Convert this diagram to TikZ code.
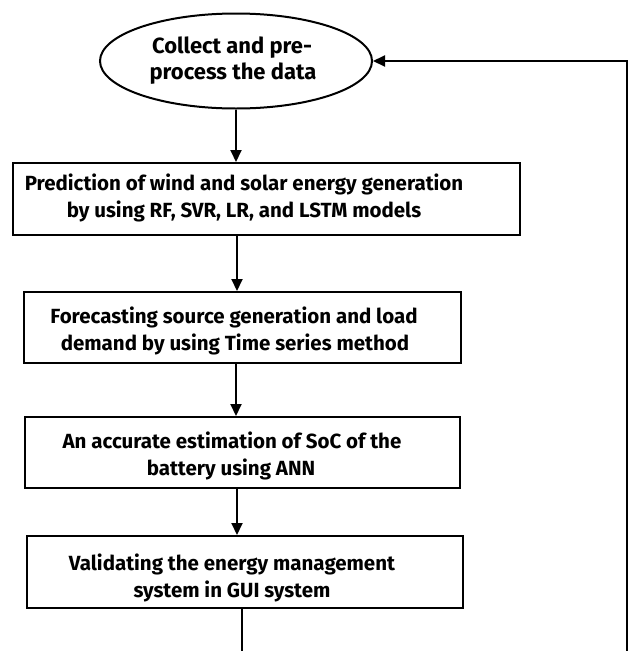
\documentclass[tikz,border=0pt]{standalone}
\usepackage{fontspec}
\setmainfont{Fira Sans}
\usetikzlibrary{shapes.geometric,arrows.meta}
\begin{document}
\begin{tikzpicture}[x=1pt,y=-1pt,
  line/.style={line width=2pt},
  arr/.style={line width=2pt,-{Triangle[width=11pt,length=12pt]}},
  stepbox/.style={draw,line width=2pt,rectangle,inner sep=0pt},
  startoval/.style={draw,line width=2pt,ellipse,inner sep=0pt,minimum width=272pt,minimum height=95pt},
  txt/.style={anchor=base,inner sep=0pt,font=\bfseries\fontsize{20.5}{27}\selectfont},
  ovaltxt/.style={txt,font=\bfseries\fontsize{22}{27}\selectfont}]
\useasboundingbox[fill=white] (0,0) rectangle (628,651);
% shapes
\node[startoval] (ell) at (236,61) {};
\node[stepbox,minimum width=507pt,minimum height=72pt] (b1) at (266.5,199) {};
\node[stepbox,minimum width=437pt,minimum height=71pt] (b2) at (242.5,327.5) {};
\node[stepbox,minimum width=435pt,minimum height=71pt] (b3) at (242.5,452.5) {};
\node[stepbox,minimum width=436pt,minimum height=72pt] (b4) at (245,572) {};
% texts
\node[ovaltxt] (e1) at (232,53) {Collect and pre-};
\node[ovaltxt] (e2) at (233,79) {process the data};
\node[txt] (t1a) at (244,190) {Prediction of wind and solar energy generation};
\node[txt] (t1b) at (244,217) {by using RF, SVR, LR, and LSTM models};
\node[txt] (t2a) at (234,323) {Forecasting source generation and load};
\node[txt] (t2b) at (235,350) {demand by using Time series method};
\node[txt] (t3a) at (232,448) {An accurate estimation of SoC of the};
\node[txt] (t3b) at (231,475) {battery using ANN};
\node[txt] (t4a) at (232,570) {Validating the energy management};
\node[txt] (t4b) at (232,597) {system in GUI system};
% connectors
\coordinate (c1) at (237,0);
\coordinate (lowend) at (242,651);
\coordinate (rb) at (626.5,651);
\coordinate (rt) at (626.5,61);
\draw[arr] (ell.south) -- (ell.south |- b1.north);
\draw[arr] (b1.south -| c1) -- (b2.north -| c1);
\draw[arr] (b2.south -| ell.south) -- (b3.north -| ell.south);
\draw[arr] (b3.south -| c1) -- (b4.north -| c1);
\draw[line] (b4.south -| lowend) -- (lowend);
\draw[arr] (rb) -- (rt) -- (ell.east);
\end{tikzpicture}
\end{document}
